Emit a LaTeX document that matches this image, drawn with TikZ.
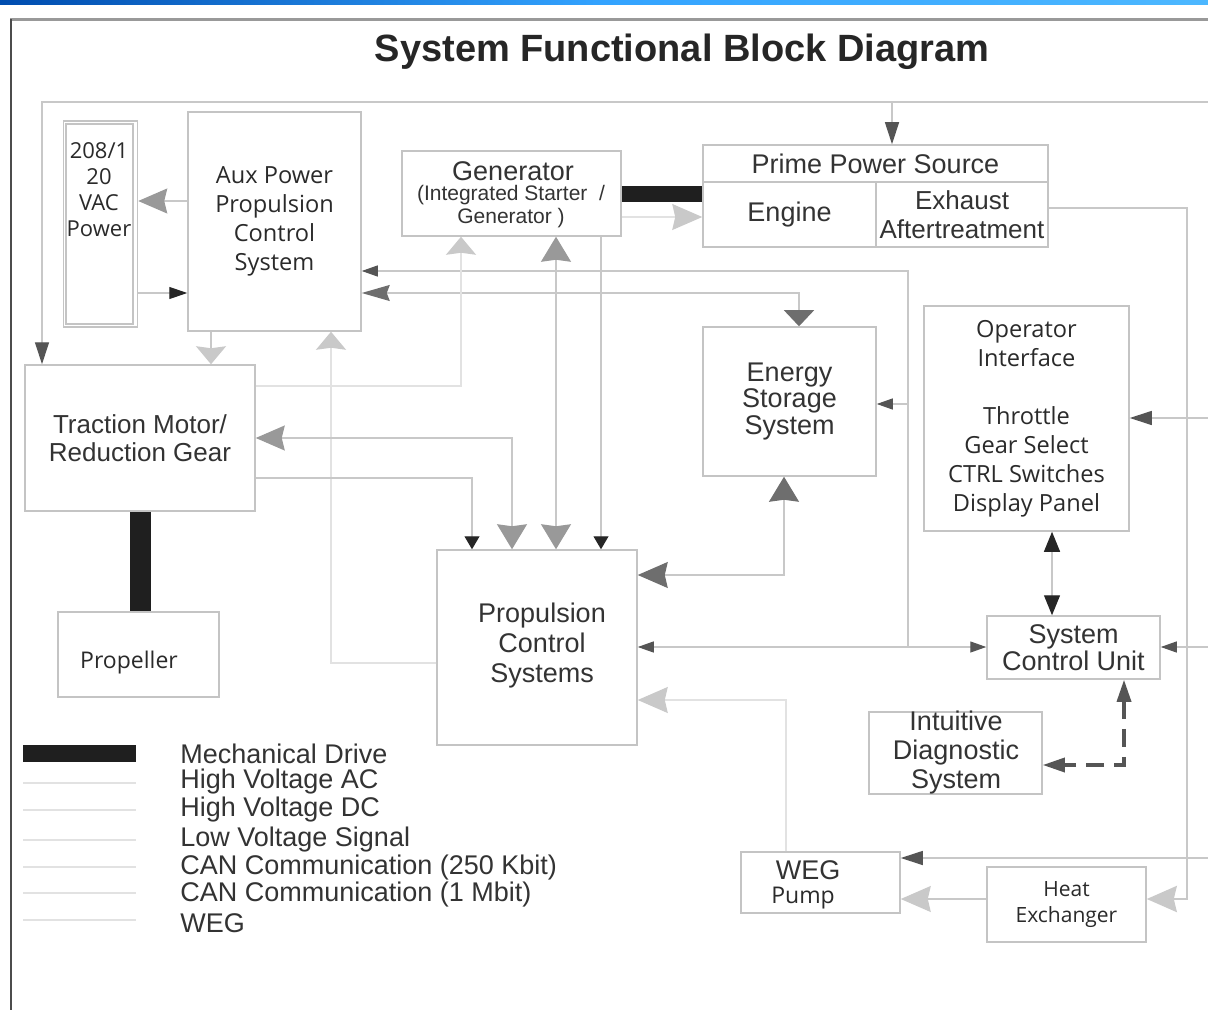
\documentclass[tikz,border=0pt]{standalone}
\usepackage{fontspec}
\setmainfont{Liberation Sans}
\newfontfamily\rnd{Open Sans}
\usetikzlibrary{arrows.meta}
\definecolor{txt}{HTML}{333333}
\definecolor{txr}{HTML}{2A2A2A}
\definecolor{bord}{HTML}{C4C4C4}
\definecolor{lnc}{HTML}{C8C8C8}
\definecolor{vlc}{HTML}{E2E2E2}
\definecolor{dk}{HTML}{555555}
\definecolor{dk2}{HTML}{6E6E6E}
\definecolor{md}{HTML}{999999}
\definecolor{lt}{HTML}{C9C9C9}
\tikzset{
 tBlk/.tip={Triangle[length=6.5pt,width=7.5pt,color=black!85]},
 tBlkL/.tip={Triangle[length=9pt,width=6pt,color=black!85]},
 tBlk2/.tip={Triangle[length=10pt,width=8pt,color=black!85]},
 tDk/.tip={Triangle[length=8pt,width=5.5pt,color=dk]},
 tDkM/.tip={Triangle[length=11pt,width=7pt,color=dk]},
 tDkW/.tip={Triangle[length=8pt,width=15pt,color=dk2]},
 tDkB/.tip={Stealth[length=12.5pt,width=15pt,inset=1pt,color=dk2]},
 tDkB2/.tip={Stealth[length=15pt,width=13pt,inset=1.5pt,color=dk2]},
 tMdB/.tip={Stealth[length=14.5pt,width=12.5pt,inset=1.5pt,color=md]},
 tMdW/.tip={Stealth[length=12.5pt,width=15pt,inset=1pt,color=md]},
 tMdE/.tip={Stealth[length=14pt,width=8pt,inset=1.5pt,color=dk2]},
 tLtW/.tip={Stealth[length=9pt,width=15pt,inset=1pt,color=lt]},
 tLtB/.tip={Stealth[length=15pt,width=13pt,inset=1.5pt,color=lt]},
}
\begin{document}
\begin{tikzpicture}[x=0.5pt,y=-0.5pt,
  blk/.style={draw=bord, line width=0.75pt, inner sep=0pt, text=txt, align=center},
  lbl/.style={inner sep=0pt, text=txt, align=center},
  ln/.style={draw=lnc, line width=0.6pt},
  vln/.style={draw=vlc, line width=0.6pt},
  thk/.style={draw=lnc, line width=1.4pt},
  mech/.style={draw=black!88},
  dsh/.style={draw=dk, line width=1.7pt, dash pattern=on 9pt off 5pt},
  leg/.style={inner sep=0pt, text=txt, anchor=west, font=\fontsize{13.5}{14}\selectfont},
  legln/.style={draw=vlc, line width=0.6pt}]
\useasboundingbox (0,0) rectangle (1208,1010);
\fill[white] (0,0) rectangle (1208,1010);
% top blue bar
\shade[left color=blue!55!black!70!cyan, right color=cyan!60!blue!70, middle color=blue!45!cyan!80] (0,0) rectangle (1208,5);
% frame
\draw[gray!80, line width=1.3pt] (10,19.5) -- (1208,19.5);
\draw[black!70, line width=1pt] (11,19) -- (11,1010);
% title
\node[text=black!85, font=\bfseries\fontsize{19}{22}\selectfont, inner sep=0pt] (title) at (682,52) {System Functional Block Diagram};

% boxes
\node[blk, minimum width=37pt, minimum height=103pt] (vacO) at (100.5,224) {};
\node[blk, minimum width=33.5pt, minimum height=100pt] (vac) at (99.5,224) {};
\node[lbl, text=txr, font=\rnd\fontsize{11}{13}\selectfont] (vac-t) at (99,190) {208/1\\20\\VAC\\Power};
\node[blk, text=txr, minimum width=86.5pt, minimum height=109.5pt, font=\rnd\fontsize{11.8}{14.5}\selectfont] (aux) at (274.5,221.5) {Aux Power\\Propulsion\\Control\\System};
\node[blk, minimum width=109.5pt, minimum height=42.5pt] (gen) at (511.5,193.5) {};
\node[lbl, font=\fontsize{13.5}{14}\selectfont] (gen-t1) at (513,171) {Generator};
\node[lbl, font=\fontsize{10.5}{11.5}\selectfont] (gen-t2) at (511,207) {(Integrated Starter~~/\\Generator )};
\node[blk, minimum width=172.5pt, minimum height=18.5pt, font=\fontsize{13.5}{14}\selectfont] (primehead) at (875.5,163.5) {Prime Power Source};
\node[blk, minimum width=86.5pt, minimum height=32.5pt, font=\fontsize{13.5}{14}\selectfont] (engine) at (789.5,214.5) {\raisebox{-2pt}{Engine}};
\node[blk, minimum width=86pt, minimum height=32.5pt, font=\fontsize{13}{14.5}\selectfont] (exhaust) at (962,214.5) {Exhaust\\Aftertreatment};
\node[blk, minimum width=115pt, minimum height=73pt, font=\fontsize{13}{14}\selectfont] (tm) at (140,438) {Traction Motor/\\Reduction Gear};
\node[blk, minimum width=80.5pt, minimum height=42.5pt] (prop) at (138.5,654.5) {};
\node[lbl, text=txr, font=\rnd\fontsize{11.5}{13}\selectfont] (prop-t) at (129,663) {Propeller};
\node[blk, minimum width=100pt, minimum height=97.5pt] (pcs) at (537,647.5) {};
\node[lbl, font=\fontsize{13.5}{15}\selectfont] (pcs-t) at (542,646) {Propulsion\\Control\\Systems};
\node[blk, minimum width=86.5pt, minimum height=74.5pt, font=\fontsize{13.5}{13.25}\selectfont] (ess) at (789.5,401.5) {Energy\\Storage\\System};
\node[blk, text=txr, minimum width=102.5pt, minimum height=112.5pt, font=\rnd\fontsize{11.8}{14.5}\selectfont] (oi) at (1026.5,418.5) {Operator\\Interface\\[14.5pt]Throttle\\Gear Select\\CTRL Switches\\Display Panel};
\node[blk, minimum width=86.5pt, minimum height=31.5pt, font=\fontsize{13.5}{13.5}\selectfont] (scu) at (1073.5,647.5) {System\\Control Unit};
\node[blk, minimum width=86.5pt, minimum height=41pt] (ids) at (955.5,753) {};
\node[lbl, font=\fontsize{13.5}{14.5}\selectfont] (ids-t) at (956,753) {Intuitive\\Diagnostic\\System};
\node[blk, minimum width=79.5pt, minimum height=30.5pt] (weg) at (820.5,882.5) {};
\node[lbl, font=\fontsize{13.5}{14}\selectfont] (weg-t1) at (808,870) {WEG};
\node[lbl, text=txr, font=\rnd\fontsize{11.5}{13}\selectfont] (weg-t2) at (803,898) {Pump};
\node[blk, text=txr, minimum width=79.5pt, minimum height=37.5pt, font=\rnd\fontsize{10.5}{13}\selectfont] (he) at (1066.5,904.5) {Heat\\Exchanger};

% coordinates for free ends / junctions
\coordinate (topR) at (1208,102);
\coordinate (tapP) at (892,102);
\coordinate (j1) at (908,647);
\coordinate (j2) at (908,404);
\coordinate (rOI) at (1208,418);
\coordinate (rSCU) at (1208,647);
\coordinate (rWEG) at (1208,858);

% connectors
\draw[ln, -{tDkM}] (topR) -| (42,0 |- tm.north);
\draw[ln, -{tDkM}] (tapP) -- (tapP |- primehead.north);
\draw[ln, -{tMdB}] (aux.west |- 0,201) -- (vacO.east |- 0,201);
\draw[ln, -{tBlkL}] (vacO.east |- 0,293) -- (aux.west |- 0,293);
\draw[ln, {tDk}-{tDk}] (pcs.east |- j1) -- (scu.west |- j1);
\draw[ln, -{tDk}] (j1) -- (908,271) -- (aux.east |- 0,271);
\draw[ln, -{tDk}] (j2) -- (ess.east |- j2);
\draw[ln, {tMdE}-{tDkW}] (aux.east |- 0,293) -| (799,0 |- ess.north);
\draw[ln, -{tLtW}] (211,0 |- aux.south) -- (211,0 |- tm.north);
\draw[vln, -{tLtW}] (pcs.west |- 0,663) -| (331,0 |- aux.south);
\draw[vln, -{tLtW}] (tm.east |- 0,386) -| (461,0 |- gen.south);
\draw[ln, {tMdW}-{tMdW}] (556,0 |- gen.south) -- (556,0 |- pcs.north);
\draw[ln, -{tBlk}] (601,0 |- gen.south) -- (601,0 |- pcs.north);
\draw[vln, -{tLtB}] (gen.east |- 0,217) -- (engine.west |- 0,217);
\draw[mech, line width=8pt] (gen.east |- 0,194) -- (engine.west |- 0,194);
\draw[ln, {tMdB}-{tMdW}] (tm.east |- 0,438) -| (512,0 |- pcs.north);
\draw[ln, -{tBlk}] (tm.east |- 0,478) -| (472,0 |- pcs.north);
\draw[mech, line width=10.5pt] (140.5,0 |- tm.south) -- (140.5,0 |- prop.north);
\draw[ln, {tDkB}-{tDkB2}] (784,0 |- ess.south) |- (pcs.east |- 0,575);
\draw[vln, -{tLtB}] (786,0 |- weg.north) |- (pcs.east |- 0,700);
\draw[ln, {tBlk2}-{tBlk2}] (1052,0 |- oi.south) -- (1052,0 |- scu.north);
\draw[ln, -{tDkM}] (rOI) -- (oi.east |- rOI);
\draw[ln, -{tDk}] (rSCU) -- (scu.east |- rSCU);
\draw[ln, -{tDkM}] (rWEG) -- (weg.east |- rWEG);
\draw[thk, -{tLtB}] (exhaust.east |- 0,208) -- (1187,208) |- (he.east |- 0,899);
\draw[ln, -{tLtB}] (he.west |- 0,899) -- (weg.east |- 0,899);
\draw[dsh, {tDkM}-{tDkM}] (1124,0 |- scu.south) |- (ids.east |- 0,765);

% legend
\fill[black!88] (23,745) rectangle (136,762);
\draw[legln] (23,783) -- (136,783);
\draw[legln] (23,810) -- (136,810);
\draw[legln, line width=1pt] (23,840) -- (136,840);
\draw[legln] (23,867) -- (136,867);
\draw[legln] (23,893) -- (136,893);
\draw[legln] (23,920) -- (136,920);
\node[leg] (l1) at (180,754) {Mechanical Drive};
\node[leg] (l2) at (180,782) {High Voltage AC};
\node[leg] (l3) at (180,810) {High Voltage DC};
\node[leg] (l4) at (180,840) {Low Voltage Signal};
\node[leg] (l5) at (180,868) {CAN Communication (250 Kbit)};
\node[leg] (l6) at (180,895) {CAN Communication (1 Mbit)};
\node[leg] (l7) at (180,923) {WEG};
\end{tikzpicture}
\end{document}
